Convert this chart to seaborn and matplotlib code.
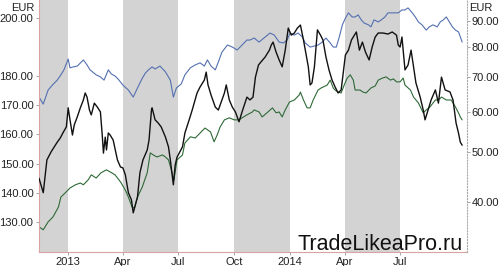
import numpy as np
import pandas as pd
import matplotlib
matplotlib.use('Agg')
import matplotlib.pyplot as plt
import seaborn as sns
from matplotlib.ticker import FixedLocator, FormatStrFormatter, NullLocator, NullFormatter

# ---------------- data (days offset from 2013-01-01) ----------------
base_date = '2013-01-01'

blue_days = [-48, -41, -33, -26, -18, -12, -7, 0, 3, 8, 15, 25, 31, 36, 46, 53, 59, 66, 71, 77,
             82, 90, 99, 107, 114, 122, 127, 132, 138, 143, 151, 160, 168, 173, 178, 186, 192, 201,
             209, 217, 224, 229, 235, 242, 247, 253, 262, 270, 278, 286, 294, 299, 306, 314, 322,
             332, 339, 347, 354, 360, 365, 372, 378, 385, 390, 398, 406, 411, 418, 424, 431, 436,
             441, 446, 451, 456, 461, 467, 472, 477, 482, 487, 494, 498, 503, 510, 515, 521, 526,
             531, 538, 543, 549, 554, 559, 566, 571, 576, 582, 589, 594, 600, 607, 612, 617, 622,
             627, 632, 637, 642, 645, 648]
blue_vals = [172.8, 170.4, 175.2, 176.9, 178.6, 180.4, 182.1, 185.8, 182.8, 183.1, 183.4, 185.5,
             183.8, 182.1, 180.4, 179.7, 178.6, 182.1, 180.7, 180.0, 179.0, 176.9, 175.2, 172.8,
             175.9, 179.3, 181.0, 182.1, 183.1, 182.4, 183.4, 181.4, 178.6, 172.8, 175.9, 177.3,
             180.4, 182.8, 183.8, 184.5, 183.4, 185.5, 183.4, 182.1, 184.8, 188.2, 190.6, 189.9,
             188.9, 190.6, 192.3, 192.3, 193.0, 191.6, 193.0, 194.7, 194.0, 191.6, 191.3, 192.3,
             194.7, 194.0, 194.7, 193.4, 191.3, 189.9, 190.3, 190.6, 191.6, 193.0, 191.3, 189.9,
             189.9, 193.4, 197.5, 199.8, 201.6, 200.2, 200.2, 200.9, 199.2, 198.1, 197.5, 196.8,
             199.2, 198.5, 199.2, 200.2, 201.6, 201.6, 201.6, 201.6, 202.6, 202.6, 203.3, 201.6,
             200.2, 198.5, 197.5, 195.7, 196.8, 197.5, 196.8, 198.5, 199.2, 200.2, 198.5, 196.8,
             195.7, 195.1, 193.4, 191.6]

green_days = [-48, -41, -33, -25, -16, -12, -5, 3, 12, 20, 25, 33, 38, 46, 54, 63, 69, 77, 86, 94,
              99, 105, 109, 114, 122, 130, 135, 140, 146, 155, 160, 165, 171, 174, 179, 188, 192,
              201, 209, 217, 225, 234, 240, 245, 250, 257, 265, 273, 281, 286, 294, 303, 306, 314,
              319, 327, 336, 342, 347, 352, 357, 364, 372, 380, 382, 387, 393, 398, 403, 411, 416,
              426, 431, 436, 439, 444, 449, 454, 459, 464, 469, 472, 480, 485, 490, 498, 505, 510,
              517, 523, 530, 535, 540, 546, 551, 554, 563, 568, 576, 584, 589, 595, 604, 609, 614,
              622, 630, 637, 642, 645, 648]
green_vals = [128.4, 127.4, 130.1, 131.8, 135.2, 138.6, 140.0, 141.7, 142.8, 143.4, 142.8, 144.5,
              146.2, 145.1, 146.9, 147.9, 147.2, 146.2, 143.8, 141.0, 138.6, 135.2, 134.9, 138.6,
              142.1, 146.9, 153.7, 153.0, 152.3, 153.0, 152.3, 151.3, 146.9, 144.5, 151.3, 153.0,
              157.1, 159.2, 158.8, 160.5, 162.2, 160.9, 157.5, 159.8, 162.6, 165.0, 165.7, 165.0,
              165.0, 165.7, 166.7, 167.7, 168.4, 167.7, 166.0, 167.4, 169.1, 167.4, 167.7, 166.0,
              168.4, 171.1, 171.8, 173.5, 174.5, 171.8, 169.1, 169.1, 171.8, 175.2, 175.9, 176.9,
              178.6, 175.9, 175.2, 174.5, 174.2, 176.9, 179.3, 180.4, 178.6, 175.2, 175.2, 174.5,
              174.2, 175.9, 176.6, 178.6, 179.3, 179.7, 178.6, 179.0, 178.0, 178.0, 179.3, 176.9,
              175.2, 172.8, 170.8, 167.4, 168.4, 169.4, 171.8, 171.8, 172.8, 171.8, 171.8, 169.4,
              167.4, 166.0, 165.0]

black_days = [-48, -41, -35, -28, -23, -18, -13, -8, -3, 0, 3, 7, 10, 15, 20, 25, 28, 31, 35, 38,
              43, 48, 53, 56, 58, 61, 63, 66, 69, 74, 81, 86, 90, 94, 99, 104, 107, 114, 118, 123,
              130, 133, 137, 138, 143, 148, 153, 160, 165, 168, 171, 173, 176, 179, 188, 192, 199,
              204, 212, 217, 224, 227, 230, 235, 242, 247, 253, 257, 260, 265, 270, 275, 281, 286,
              294, 299, 304, 308, 313, 317, 324, 331, 334, 337, 342, 347, 352, 357, 362, 367, 372,
              377, 382, 387, 392, 395, 398, 401, 405, 410, 415, 419, 424, 429, 434, 439, 444, 449,
              452, 456, 461, 466, 469, 474, 479, 484, 489, 495, 500, 505, 510, 518, 526, 533, 540,
              543, 546, 549, 554, 559, 564, 568, 572, 579, 584, 587, 592, 597, 604, 609, 614, 620,
              628, 633, 638, 642, 645, 648]
black_vals = [44.5, 41.7, 48.3, 50.1, 51.2, 52.3, 53.3, 54.7, 56.0, 61.0, 57.8, 54.0, 56.5, 58.6,
              61.0, 63.2, 65.2, 64.0, 60.4, 59.1, 62.3, 61.2, 59.9, 54.0, 49.8, 53.5, 50.5, 54.5,
              54.0, 52.8, 48.3, 46.8, 46.6, 45.2, 41.7, 40.4, 38.1, 40.9, 45.6, 48.3, 50.5, 52.8,
              60.4, 61.0, 57.8, 57.0, 56.0, 53.5, 51.2, 48.3, 45.2, 43.2, 47.2, 48.9, 51.2, 54.5,
              57.8, 60.4, 65.2, 67.0, 69.1, 71.6, 67.6, 64.6, 61.2, 60.4, 63.2, 65.2, 67.6, 63.2,
              61.2, 59.9, 57.3, 59.9, 64.0, 63.2, 64.0, 70.0, 73.9, 74.9, 76.6, 79.0, 80.8, 81.9,
              78.3, 75.6, 73.3, 79.0, 87.2, 84.5, 85.3, 87.2, 88.4, 82.7, 76.6, 73.3, 67.6, 68.2,
              73.3, 86.5, 84.5, 82.7, 76.6, 72.3, 69.1, 67.0, 65.2, 66.1, 70.7, 77.3, 79.0, 82.7,
              83.8, 85.7, 79.0, 81.9, 78.3, 75.6, 80.1, 83.8, 85.3, 85.3, 84.9, 85.7, 84.5, 80.8,
              80.1, 83.8, 72.3, 73.9, 79.0, 73.3, 68.2, 64.0, 60.4, 57.8, 60.4, 63.2, 66.1, 62.3,
              70.0, 66.1, 65.5, 63.2, 57.0, 54.5, 52.3, 51.6]

shade_starts = ['2012-11-14', '2013-04-01', '2013-10-01', '2014-04-01']
shade_ends = ['2013-01-01', '2013-07-01', '2014-01-01', '2014-07-01']

xtick_dates = ['2013-01-01', '2013-04-01', '2013-07-01', '2013-10-01', '2014-01-01', '2014-04-01', '2014-07-01']
xtick_labels = ['2013', 'Apr', 'Jul', 'Oct', '2014', 'Apr', 'Jul']
left_ticks = [130, 140, 150, 160, 170, 180, 200]
right_ticks = [40, 50, 60, 70, 80, 90]

# ---------------- build frames ----------------
def frame(days, vals):
    d = pd.Timestamp(base_date) + pd.to_timedelta(days, unit='D')
    return pd.DataFrame({'date': d, 'value': vals})

blue_df = frame(blue_days, blue_vals)
green_df = frame(green_days, green_vals)
black_df = frame(black_days, black_vals)

sns.set_style('white')
plt.rcParams['font.family'] = ['Liberation Sans', 'DejaVu Sans']

fig = plt.figure(figsize=(5.0, 2.66), dpi=100)
ax = fig.add_axes([0.078, 14 / 266, 0.856, 252 / 266])
ax2 = ax.twinx()

for s, e in zip(shade_starts, shade_ends):
    ax.axvspan(pd.Timestamp(s), pd.Timestamp(e), color='#d3d3d4', lw=0, zorder=0)

sns.lineplot(data=blue_df, x='date', y='value', ax=ax, color='#5470b0', lw=0.8)
sns.lineplot(data=green_df, x='date', y='value', ax=ax, color='#2e6a36', lw=0.8)
sns.lineplot(data=black_df, x='date', y='value', ax=ax2, color='#111111', lw=1.0)

ax.set_xlim(pd.Timestamp('2012-11-14'), pd.Timestamp('2014-10-19'))
ax.set_ylim(119.8, 206.0)
ax2.set_yscale('log')
ax2.set_ylim(31.97, 98.9)

ax.set_xticks([pd.Timestamp(d) for d in xtick_dates])
ax.set_xticklabels(xtick_labels)
ax.yaxis.set_major_locator(FixedLocator(left_ticks))
ax.yaxis.set_major_formatter(FormatStrFormatter('%.2f'))
ax2.yaxis.set_major_locator(FixedLocator(right_ticks))
ax2.yaxis.set_major_formatter(FormatStrFormatter('%.2f'))
ax2.yaxis.set_minor_locator(NullLocator())
ax2.yaxis.set_minor_formatter(NullFormatter())

for a in (ax, ax2):
    a.set_xlabel('')
    a.set_ylabel('')
    a.spines['top'].set_visible(False)

ax.spines['right'].set_visible(False)
ax.spines['left'].set_color('#d9a3a3')
ax.spines['bottom'].set_color('#d9a3a3')
ax.spines['left'].set_linewidth(0.8)
ax.spines['bottom'].set_linewidth(0.8)
ax2.spines['left'].set_visible(False)
ax2.spines['bottom'].set_visible(False)
ax2.spines['right'].set_color('#aaaaaa')
ax2.spines['right'].set_linestyle(':')
ax2.spines['right'].set_linewidth(0.8)

ax.tick_params(axis='y', which='major', left=True, length=2.5, width=0.6, color='#999999',
               labelsize=8, labelcolor='#222222', pad=1.5)
ax.tick_params(axis='x', which='major', bottom=True, length=2, width=0.6, color='#999999',
               labelsize=8, labelcolor='#222222', pad=1.5)
ax2.tick_params(axis='y', which='major', right=True, length=2, width=0.6, color='#999999',
                labelsize=8, labelcolor='#222222', pad=1.5)

fig.text(35 / 500, 1 - 8 / 266, 'EUR', ha='right', va='center', fontsize=8, color='#222222')
fig.text(469 / 500, 1 - 8 / 266, 'EUR', ha='left', va='center', fontsize=8, color='#222222')
fig.text(297 / 500, 16 / 266, 'TradeLikeaPro.ru', ha='left', va='baseline', fontsize=15.5,
         color='#111111')

fig.savefig('out.png', dpi=100)
